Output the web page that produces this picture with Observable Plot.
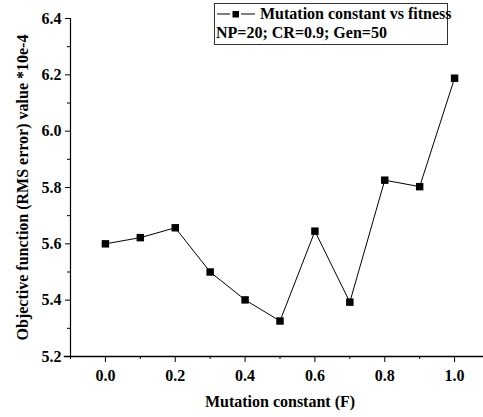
<!DOCTYPE html>
<html><head><meta charset="utf-8">
<script src="https://cdn.jsdelivr.net/npm/d3@7"></script>
<script src="https://cdn.jsdelivr.net/npm/@observablehq/plot@0.6"></script>
<style>
body{margin:0;background:#fff;}
#wrap{position:relative;width:483px;height:417px;overflow:hidden;}
#wrap svg text{font-family:"Liberation Serif","Times New Roman",Times,serif !important;font-weight:bold;}
#legend{position:absolute;left:214px;top:3px;width:234px;height:42px;border:1px solid #333;box-sizing:border-box;font-family:"Liberation Serif","Times New Roman",Times,serif;font-weight:bold;font-size:16px;line-height:19px;padding:0 0 0 1px;background:#fff;white-space:nowrap;}
#legend svg{vertical-align:-1px;}
</style></head><body>
<div id="wrap"><div id="legend"></div></div>
<script>
const F = [0.0,0.1,0.2,0.3,0.4,0.5,0.6,0.7,0.8,0.9,1.0];
const fitness = [5.600,5.622,5.657,5.500,5.401,5.326,5.645,5.393,5.826,5.803,6.188];
const yTicks = [5.2,5.4,5.6,5.8,6.0,6.2,6.4];
const yMinor = [5.3,5.5,5.7,5.9,6.1,6.3];
const xTicks = [0.0,0.2,0.4,0.6,0.8,1.0];
const xMinor = [-0.1,0.1,0.3,0.5,0.7,0.9,1.1];
const seriesName = "Mutation constant vs fitness";
const subtitle = "NP=20; CR=0.9; Gen=50";

const data = F.map((f,i)=>({f, v: fitness[i]}));
const chart = Plot.plot({
  width:483, height:417,
  marginLeft:70, marginRight:-6, marginTop:18, marginBottom:61,
  style:{fontFamily:"'Liberation Serif','Times New Roman',serif", fontWeight:"bold", fontSize:"16px", color:"#000", background:"#fff", overflow:"visible"},
  x:{domain:[-0.1,1.1]},
  y:{domain:[5.2,6.4]},
  marks:[
    Plot.axisY({ticks:yTicks, tickSize:5, tickFormat:d=>d.toFixed(1), tickPadding:4, fontSize:16, label:"Objective function (RMS error) value *10e-4", labelAnchor:"center", labelArrow:"none", labelOffset:54}),
    Plot.axisY({ticks:yMinor, tickSize:3, text:null, label:null}),
    Plot.axisX({ticks:xTicks, tickSize:6, tickFormat:d=>d.toFixed(1), tickPadding:7, fontSize:16, label:"Mutation constant (F)", labelAnchor:"center", labelArrow:"none", labelOffset:50}),
    Plot.axisX({ticks:xMinor, tickSize:3, text:null, label:null}),
    Plot.ruleX([-0.1],{stroke:"#000", strokeWidth:1.2}),
    Plot.ruleY([5.2],{x1:-0.118, x2:1.12, stroke:"#000", strokeWidth:1.5}),
    Plot.line(data,{x:"f", y:"v", stroke:"#000", strokeWidth:1}),
    Plot.dot(data,{x:"f", y:"v", symbol:"square", r:4.2, fill:"#000", stroke:"none"})
  ]
});
document.getElementById("wrap").prepend(chart);
document.getElementById("legend").innerHTML =
  `<svg width="40" height="12"><line x1="1" x2="14" y1="6" y2="6" stroke="#000"/><line x1="25" x2="39" y1="6" y2="6" stroke="#000"/><rect x="16.5" y="3" width="6.5" height="6.5" fill="#000"/></svg> ${seriesName}<br>${subtitle}`;
</script>
</body></html>
